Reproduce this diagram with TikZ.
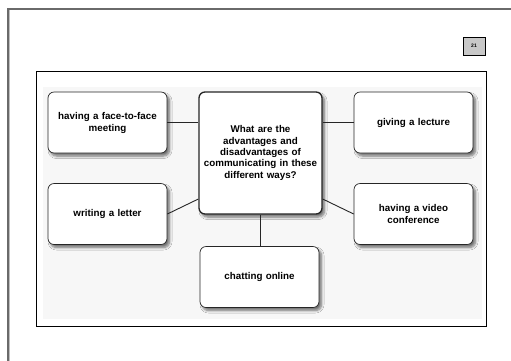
\documentclass[tikz,border=0pt]{standalone}
\usepackage{fontspec}
\setmainfont{Liberation Sans}
\usetikzlibrary{shadows.blur}
\definecolor{pagegray}{HTML}{6A6A6A}
\definecolor{bggray}{HTML}{F7F7F7}
\definecolor{numgray}{HTML}{C8C8C8}
\tikzset{
  topic/.style={draw=black!85, line width=0.7pt, fill=white, rounded corners=6pt,
    minimum width=119pt, minimum height=61pt, inner sep=0pt, align=center,
    text width=112pt, font=\fontsize{9.8}{12}\selectfont\bfseries,
    blur shadow={shadow xshift=2.5pt, shadow yshift=-3pt, shadow blur steps=6, shadow opacity=55, shadow blur radius=2.5pt}},
  hub/.style={topic, line width=1.3pt, minimum width=123pt, minimum height=122pt,
    text width=120pt, font=\fontsize{9.8}{11.3}\selectfont\bfseries},
  link/.style={draw=black!85, line width=0.9pt}
}
\begin{document}
\begin{tikzpicture}[x=1pt,y=-1pt]
\useasboundingbox (0,0) rectangle (511,360);
\fill[white] (0,0) rectangle (511,360);
% page edge
\draw[pagegray, line width=1.5pt] (8.2,362) -- (8.2,8.8) -- (512,8.8);
\draw[black!25, line width=0.6pt] (9.7,362) -- (9.7,9.8);
% page number
\node[draw=black, line width=0.8pt, fill=numgray, minimum width=22pt, minimum height=18pt,
  inner sep=0pt, font=\fontsize{5}{6}\selectfont\bfseries] (pnum) at (474,46) {21};
% frame
\node[draw=black, line width=0.9pt, minimum width=450pt, minimum height=255pt, inner sep=0pt] (frame) at (261,198.5) {};
\fill[bggray] (43,87) rectangle (482,319);
% boxes
\node[hub] (center) at (260.5,153) {What are the\\advantages and\\disadvantages of\\communicating in these\\different ways?};
\node[topic] (ff) at (107.5,122.5) {having a face-to-face\\meeting};
\node[topic] (lect) at (413.5,122.5) {giving a lecture};
\node[topic] (letter) at (107.5,214) {writing a letter};
\node[topic] (video) at (413.5,214) {having a video\\conference};
\node[topic] (chat) at (259.5,277) {chatting online};
% connectors
\draw[link] (ff.east) -- (ff.east -| center.west);
\draw[link] (lect.west) -- (lect.west -| center.east);
\draw[link] (letter.east) -- ([yshift=-46pt]center.west);
\draw[link] ([yshift=-46pt]center.east) -- (video.west);
\draw[link] (center.south) -- (center.south |- chat.north);
\end{tikzpicture}
\end{document}
